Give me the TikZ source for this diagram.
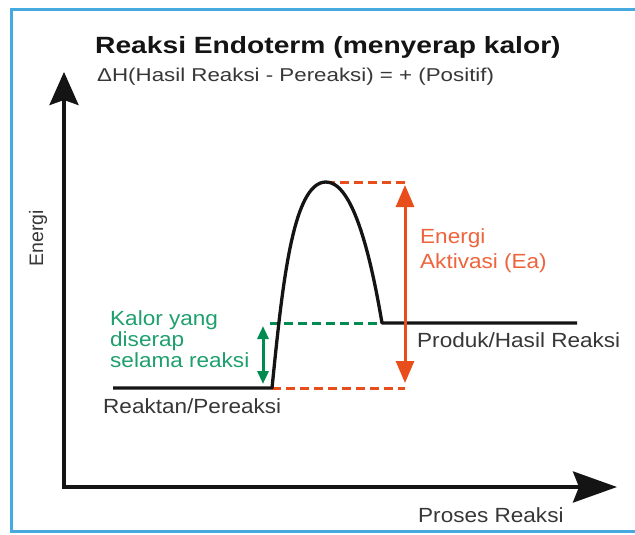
\documentclass[tikz,border=0pt]{standalone}
\usepackage{fontspec}
\setmainfont{Liberation Sans}
\newfontfamily\titlefont[FakeStretch=1.2]{Liberation Sans}
\newfontfamily\labelfont[FakeStretch=1.1]{Liberation Sans}
\usetikzlibrary{arrows.meta}
\definecolor{ink}{RGB}{20,20,20}
\definecolor{txtgray}{RGB}{55,55,55}
\definecolor{eared}{RGB}{232,78,28}
\definecolor{eatext}{RGB}{238,100,60}
\definecolor{kgreen}{RGB}{0,140,80}
\definecolor{ktext}{RGB}{30,160,110}
\definecolor{frameblue}{RGB}{70,170,225}
\tikzset{
  frame/.style={draw=frameblue, line width=3pt},
  axis/.style={draw=ink, line width=3.8pt, line join=miter},
  curve/.style={draw=ink, line width=3.3pt, line join=round},
  reddash/.style={draw=eared, line width=3pt, dash pattern=on 9pt off 5pt},
  greendash/.style={draw=kgreen, line width=3pt, dash pattern=on 9pt off 5pt},
  redarrow/.style={draw=eared, line width=3pt, {Triangle[length=22pt,width=18pt]}-{Triangle[length=22pt,width=18pt]}},
  greenarrow/.style={draw=kgreen, line width=3pt, {Triangle[length=13pt,width=11pt]}-{Triangle[length=13pt,width=11pt]}},
  lbl/.style={inner sep=0pt, anchor=base west, font=\labelfont\fontsize{20.5}{22}\selectfont},
}
\begin{document}
\begin{tikzpicture}[x=1pt,y=-1pt]
\useasboundingbox (0,0) rectangle (635,535);
\clip (0,0) rectangle (635,535);
\fill[white] (0,0) rectangle (635,535);
\draw[frame] (11,10) rectangle (660,531);

% title
\node[inner sep=0pt, anchor=base west, text=ink, font=\titlefont\bfseries\fontsize{23.5}{26}\selectfont] (title) at (95,54) {Reaksi Endoterm (menyerap kalor)};
\node[inner sep=0pt, anchor=base west, text=txtgray, font=\titlefont\fontsize{18.6}{21}\selectfont] (subtitle) at (97,81.5) {ΔH(Hasil Reaksi - Pereaksi) = + (Positif)};

% axes
\coordinate (O) at (64,487);
\coordinate (Ytip) at (64,72);
\coordinate (Xtip) at (617,487);
\draw[axis, {Stealth[length=33pt,width=29pt,inset=5pt]}-{Stealth[length=44pt,width=31pt,inset=6pt]}] (Ytip) -- (O) -- (Xtip);
\node[inner sep=0pt, rotate=90, text=txtgray, font=\fontsize{19.5}{21}\selectfont] (energi) at (38,238) {Energi};
\node[lbl, text=txtgray] (proses) at (418,522) {Proses Reaksi};

% key points
\coordinate (R0) at (113,388);
\coordinate (R1) at (272,388);
\coordinate (TS) at (326,182);
\coordinate (P0) at (382,323);
\coordinate (P1) at (577,323);
\coordinate (G0) at (270,323);
\coordinate (EaTop) at (405,182);
\coordinate (EaBot) at (405,388);
\coordinate (KTop) at (263,326);
\coordinate (KBot) at (263,384);

% dashed guides
\draw[reddash] (TS) -- (EaTop);
\draw[reddash] (R1) -- (EaBot);
\draw[greendash] (G0) -- (P0);

% energy profile
\draw[curve] (R0) -- (R1) .. controls (282,290) and (292,182) .. (TS) .. controls (350,182) and (368,240) .. (P0) -- (P1);

% arrows
\draw[redarrow, shorten <=3pt, shorten >=5pt] (EaTop) -- (EaBot);
\draw[greenarrow] (KTop) -- (KBot);

% labels
\node[lbl, text=eatext] (ea1) at (420,243) {Energi};
\node[lbl, text=eatext] (ea2) at (420,268) {Aktivasi (Ea)};
\node[lbl, text=txtgray] (produk) at (417,347) {Produk/Hasil Reaksi};
\node[lbl, text=txtgray] (reaktan) at (103,413) {Reaktan/Pereaksi};
\node[lbl, text=ktext] (k1) at (110,325) {Kalor yang};
\node[lbl, text=ktext] (k2) at (110,346) {diserap};
\node[lbl, text=ktext] (k3) at (110,367) {selama reaksi};
\end{tikzpicture}
\end{document}
